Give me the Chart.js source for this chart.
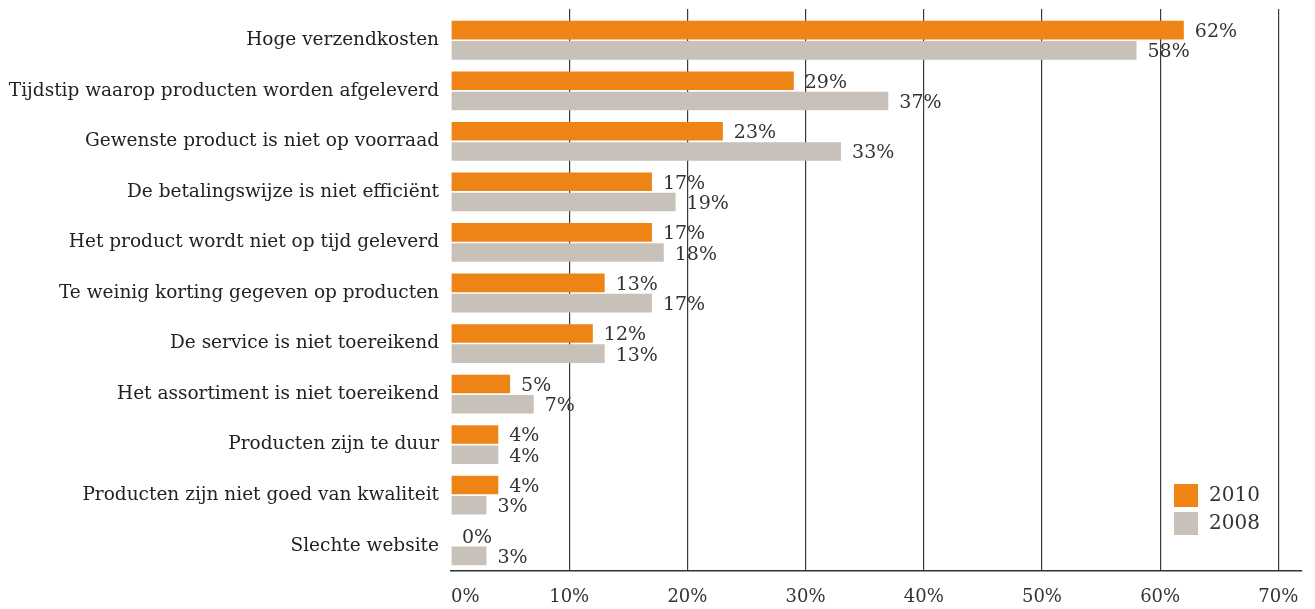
<!DOCTYPE html>
<html>
<head>
<meta charset="utf-8">
<script src="https://cdn.jsdelivr.net/npm/chart.js@4/dist/chart.umd.min.js"></script>
<style>
  html, body { margin: 0; padding: 0; background: #fff; }
  #wrap { width: 1315px; height: 609px; position: relative; }
</style>
</head>
<body>
<div id="wrap"><canvas id="chart"></canvas></div>
<script>
// Data
const categories = [
  'Hoge verzendkosten',
  'Tijdstip waarop producten worden afgeleverd',
  'Gewenste product is niet op voorraad',
  'De betalingswijze is niet efficiënt',
  'Het product wordt niet op tijd geleverd',
  'Te weinig korting gegeven op producten',
  'De service is niet toereikend',
  'Het assortiment is niet toereikend',
  'Producten zijn te duur',
  'Producten zijn niet goed van kwaliteit',
  'Slechte website'
];
const values2010 = [62, 29, 23, 17, 17, 13, 12, 5, 4, 4, 0];
const values2008 = [58, 37, 33, 19, 18, 17, 13, 7, 4, 3, 3];
const seriesLabels = ['2010', '2008'];
const xTicks = [0, 10, 20, 30, 40, 50, 60, 70];

const FONT = 'DejaVu Serif';
const TEXT = '#333';
const GRID = '#3a3a3a';
const GRID_W = 1.2;

// same pixel snapping as Chart.js uses for grid lines
const align = (p, w) => Math.round(p - w / 2) + w / 2;

// value labels next to bars
const valueLabels = {
  id: 'valueLabels',
  afterDatasetsDraw(chart) {
    const ctx = chart.ctx;
    ctx.save();
    ctx.font = '19px "' + FONT + '"';
    ctx.fillStyle = TEXT;
    ctx.textAlign = 'left';
    ctx.textBaseline = 'middle';
    chart.data.datasets.forEach((ds, i) => {
      chart.getDatasetMeta(i).data.forEach((bar, j) => {
        ctx.fillText(ds.data[j] + '%', bar.x + 11, bar.y + 2);
      });
    });
    ctx.restore();
  }
};

// legend boxes in lower right of the plot
const boxLegend = {
  id: 'boxLegend',
  afterDraw(chart) {
    const ctx = chart.ctx;
    ctx.save();
    ctx.font = '20px "' + FONT + '"';
    ctx.textBaseline = 'middle';
    ctx.textAlign = 'left';
    chart.data.datasets.forEach((ds, i) => {
      const y = 484 + i * 28;
      ctx.fillStyle = ds.backgroundColor;
      ctx.fillRect(1174, y, 24, 23);
      ctx.fillStyle = TEXT;
      ctx.fillText(ds.label, 1209, y + 12);
    });
    ctx.restore();
  }
};

// grid lines run a bit above the plot area
const gridTop = {
  id: 'gridTop',
  beforeDatasetsDraw(chart) {
    const ctx = chart.ctx;
    const x = chart.scales.x;
    ctx.save();
    ctx.strokeStyle = GRID;
    ctx.lineWidth = GRID_W;
    xTicks.slice(1).forEach(v => {
      const px = align(x.getPixelForValue(v), GRID_W);
      ctx.beginPath();
      ctx.moveTo(px, 9);
      ctx.lineTo(px, chart.chartArea.top);
      ctx.stroke();
    });
    ctx.restore();
  }
};

new Chart(document.getElementById('chart'), {
  type: 'bar',
  data: {
    labels: categories,
    datasets: [
      { label: seriesLabels[0], data: values2010, backgroundColor: '#EE8316' },
      { label: seriesLabels[1], data: values2008, backgroundColor: '#C8C1BA' }
    ]
  },
  options: {
    indexAxis: 'y',
    responsive: true,
    maintainAspectRatio: false,
    animation: false,
    categoryPercentage: 0.8,
    barPercentage: 0.92,
    layout: { padding: { top: 15, right: 13, left: 0, bottom: 0 } },
    plugins: {
      legend: { display: false },
      tooltip: { enabled: false }
    },
    scales: {
      x: {
        min: 0,
        max: 72,
        afterFit: s => { s.height = 38; },
        afterBuildTicks: s => { s.ticks = xTicks.map(v => ({ value: v })); },
        ticks: {
          padding: 16,
          color: TEXT,
          font: { family: FONT, size: 18 },
          callback: v => (v === 0 ? '     0%' : v + '%')
        },
        grid: {
          drawTicks: false,
          color: ctx => (ctx.tick && ctx.tick.value === 0 ? 'rgba(0,0,0,0)' : GRID),
          lineWidth: GRID_W
        },
        border: { color: '#333', width: 1.5 }
      },
      y: {
        afterFit: s => { s.width = 451; s.paddingTop = 0; s.paddingBottom = 0; },
        ticks: {
          padding: 12,
          color: '#222',
          font: { family: FONT, size: 18.5 }
        },
        grid: { display: false, drawTicks: false },
        border: { display: false }
      }
    }
  },
  plugins: [gridTop, valueLabels, boxLegend]
});
</script>
</body>
</html>
